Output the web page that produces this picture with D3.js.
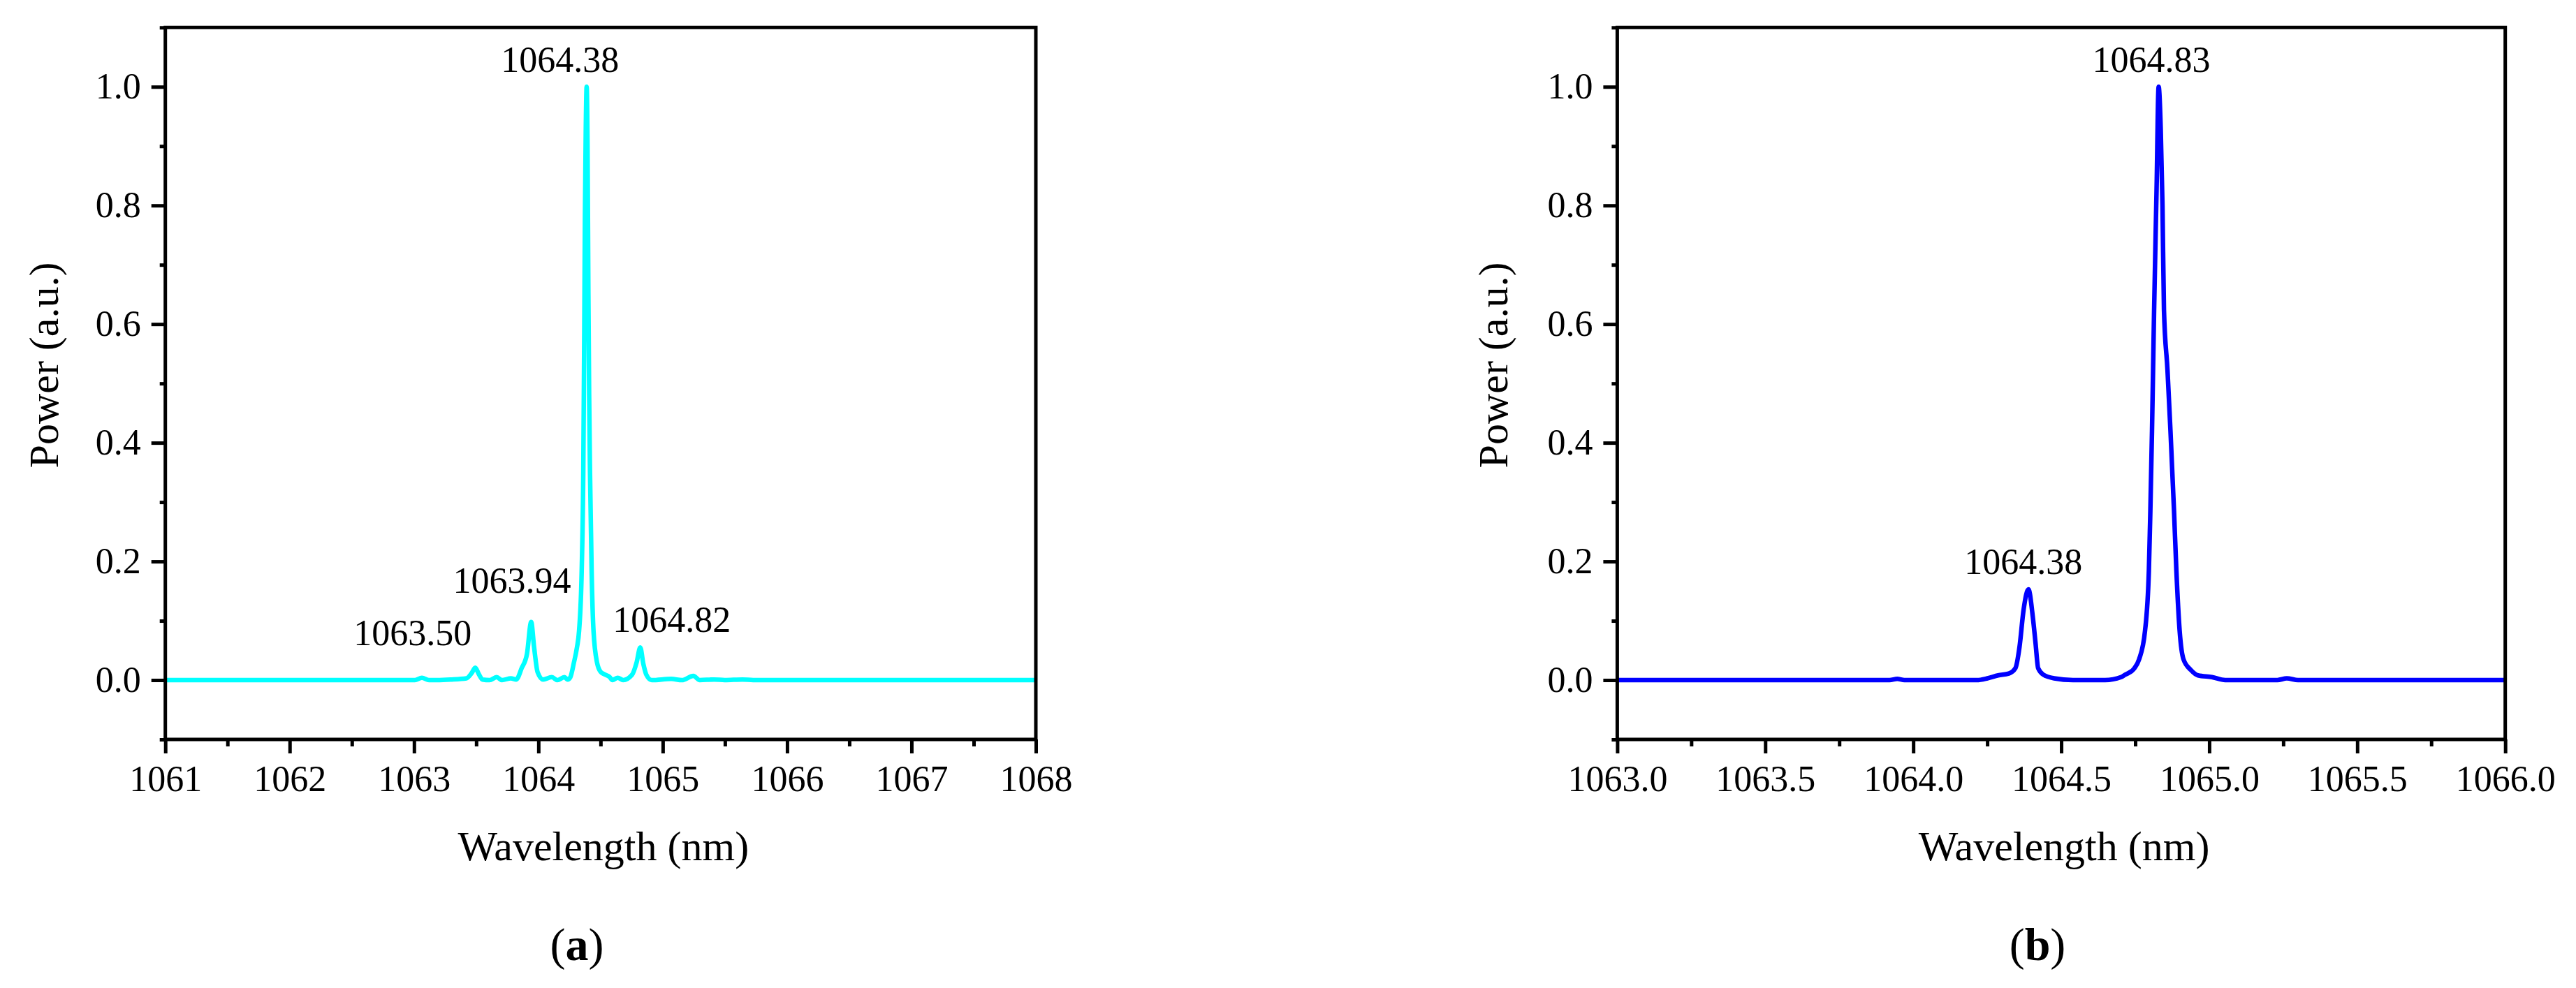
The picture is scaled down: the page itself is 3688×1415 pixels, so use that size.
<!DOCTYPE html>
<html lang="en">
<head>
<meta charset="UTF-8">
<title>Spectra</title>
<script src="https://cdn.jsdelivr.net/npm/d3@7"></script>
<style>
    body { margin: 0; background: #fff; }
    svg text { font-family: "Liberation Serif", "Times New Roman", serif; fill: #000; }
    .axis path { display: none; }
    .axis line { stroke: #000; stroke-width: 5px; }
    .axis text { font-size: 52px; }
</style>
</head>
<body>
<script>
    // panel (a): wavelength (nm) / normalised power
    const leftWavelength = [1061.0, 1063.006, 1063.063, 1063.12, 1063.292, 1063.421, 1063.464, 1063.492, 1063.521,
        1063.55, 1063.607, 1063.664, 1063.707, 1063.779, 1063.822, 1063.865, 1063.908, 1063.942, 1063.965, 1063.994,
        1064.037, 1064.108, 1064.152, 1064.209, 1064.235, 1064.257, 1064.285, 1064.31, 1064.327, 1064.348, 1064.361,
        1064.369, 1064.374, 1064.381, 1064.388, 1064.395, 1064.402, 1064.408, 1064.415, 1064.428, 1064.443, 1064.472,
        1064.50, 1064.528, 1064.574, 1064.595, 1064.638, 1064.681, 1064.753, 1064.79, 1064.819, 1064.844, 1064.868,
        1064.911, 1065.068, 1065.154, 1065.246, 1065.297, 1065.412, 1065.498, 1065.641, 1065.727, 1068.0]
    const leftPower = [0, 0, 0.004, 0, 0.001, 0.003, 0.012, 0.021, 0.01,
        0.001, 0, 0.005, 0, 0.003, 0.001, 0.02, 0.044, 0.098, 0.056, 0.013,
        0.001, 0.005, 0, 0.005, 0.001, 0.005, 0.029, 0.055, 0.083, 0.184, 0.353,
        0.596, 0.78, 0.93, 1.0, 0.9, 0.65, 0.48, 0.35, 0.184, 0.083, 0.029,
        0.014, 0.01, 0.005, 0, 0.004, 0, 0.009, 0.03, 0.055, 0.027, 0.009,
        0, 0.002, 0, 0.007, 0, 0.001, 0, 0.001, 0, 0]

    // panel (b)
    const rightWavelength = [1063.0, 1063.92, 1063.946, 1063.97, 1064.2145, 1064.2506, 1064.2867, 1064.3228, 1064.345,
        1064.359, 1064.3726, 1064.389, 1064.404, 1064.413, 1064.422, 1064.44, 1064.476, 1064.54, 1064.648, 1064.702,
        1064.714, 1064.747, 1064.763, 1064.783, 1064.796, 1064.801, 1064.8066, 1064.8137, 1064.822, 1064.829, 1064.836,
        1064.842, 1064.847, 1064.859, 1064.869, 1064.881, 1064.889, 1064.900, 1064.913, 1064.938, 1064.962, 1065.009,
        1065.054, 1065.23, 1065.262, 1065.30, 1066.0]
    const rightPower = [0, 0, 0.002, 0, 0, 0.003, 0.008, 0.011, 0.02,
        0.056, 0.118, 0.153, 0.106, 0.063, 0.02, 0.009, 0.003, 0, 0, 0.005,
        0.0085, 0.02, 0.035, 0.083, 0.184, 0.285, 0.42, 0.624, 0.826, 1.0, 0.93,
        0.8, 0.624, 0.522, 0.42, 0.285, 0.184, 0.083, 0.035, 0.017, 0.008, 0.005,
        0, 0, 0.003, 0, 0]

    const leftXTicks = [1061, 1062, 1063, 1064, 1065, 1066, 1067, 1068]
    const leftXMinor = [1061.5, 1062.5, 1063.5, 1064.5, 1065.5, 1066.5, 1067.5]
    const rightXTicks = [1063.0, 1063.5, 1064.0, 1064.5, 1065.0, 1065.5, 1066.0]
    const rightXMinor = [1063.25, 1063.75, 1064.25, 1064.75, 1065.25, 1065.75]
    const yTicks = [0, 0.2, 0.4, 0.6, 0.8, 1.0]
    const yMinor = [-0.1, 0.1, 0.3, 0.5, 0.7, 0.9, 1.1]

    // peak labels: text, wavelength and power of label baseline centre
    const leftLabels = ["1064.38", "1063.94", "1063.50", "1064.82"]
    const leftLabelX = [1064.174, 1063.787, 1062.989, 1065.072]
    const leftLabelY = [1.025, 0.147, 0.059, 0.081]
    const rightLabels = ["1064.83", "1064.38"]
    const rightLabelX = [1064.804, 1064.372]
    const rightLabelY = [1.025, 0.179]

    const W = 3688, H = 1415
    const plotTop = 39.3, plotBottom = 1059

    const svg = d3.select("body").append("svg").attr("width", W).attr("height", H)
    svg.append("rect").attr("width", W).attr("height", H).attr("fill", "#fff")

    const panels = [
        {left: 236.7, right: 1483, domain: [1061, 1068], ticks: leftXTicks, minor: leftXMinor, fmt: d3.format("d"),
            wl: leftWavelength, pw: leftPower, color: "#00ffff",
            labels: leftLabels, lx: leftLabelX, ly: leftLabelY, titleX: 62, caption: "a", captionX: 826},
        {left: 2315.4, right: 3586.7, domain: [1063, 1066], ticks: rightXTicks, minor: rightXMinor, fmt: d3.format(".1f"),
            wl: rightWavelength, pw: rightPower, color: "#0000ff",
            labels: rightLabels, lx: rightLabelX, ly: rightLabelY, titleX: 2137, caption: "b", captionX: 2917}
    ]

    panels.forEach(function (p) {
        const x = d3.scaleLinear().domain(p.domain).range([p.left, p.right])
        const y = d3.scaleLinear().domain([-0.1, 1.1]).range([plotBottom, plotTop])
        const g = svg.append("g")

        // spectrum
        const pts = p.wl.map((w, i) => [w, p.pw[i]])
        const line = d3.line().x(d => x(d[0])).y(d => y(d[1])).curve(d3.curveMonotoneX)
        g.append("path").datum(pts)
            .attr("d", line)
            .attr("fill", "none")
            .attr("stroke", p.color)
            .attr("stroke-width", 6.5)
            .attr("stroke-linejoin", "round")

        // axes
        g.append("g").attr("class", "axis").attr("transform", `translate(0,${plotBottom})`)
            .call(d3.axisBottom(x).tickValues(p.ticks).tickSize(20).tickPadding(17).tickFormat(p.fmt))
        g.append("g").attr("class", "axis").attr("transform", `translate(0,${plotBottom})`)
            .call(d3.axisBottom(x).tickValues(p.minor).tickSize(10).tickFormat(""))
        g.append("g").attr("class", "axis").attr("transform", `translate(${p.left},0)`)
            .call(d3.axisLeft(y).tickValues(yTicks).tickSize(20).tickPadding(15).tickFormat(d3.format(".1f")))
        g.append("g").attr("class", "axis").attr("transform", `translate(${p.left},0)`)
            .call(d3.axisLeft(y).tickValues(yMinor).tickSize(8).tickFormat(""))

        // frame
        g.append("rect")
            .attr("x", p.left).attr("y", plotTop)
            .attr("width", p.right - p.left).attr("height", plotBottom - plotTop)
            .attr("fill", "none").attr("stroke", "#000").attr("stroke-width", 5)

        // peak labels
        g.selectAll("text.peak").data(p.labels).join("text")
            .attr("class", "peak")
            .attr("x", (d, i) => x(p.lx[i]))
            .attr("y", (d, i) => y(p.ly[i]))
            .attr("text-anchor", "middle")
            .style("font-size", "52px")
            .text(d => d)

        // axis titles
        g.append("text")
            .attr("x", (p.left + p.right) / 2 + 4).attr("y", 1232)
            .attr("text-anchor", "middle").style("font-size", "60px")
            .text("Wavelength (nm)")
        g.append("text")
            .attr("transform", `translate(${p.titleX},523) rotate(-90)`)
            .attr("dy", "0.35em")
            .attr("text-anchor", "middle").style("font-size", "60px")
            .text("Power (a.u.)")

        // caption
        const cap = g.append("text")
            .attr("x", p.captionX).attr("y", 1375)
            .attr("text-anchor", "middle").style("font-size", "66px")
        cap.append("tspan").text("(")
        cap.append("tspan").style("font-weight", "bold").text(p.caption)
        cap.append("tspan").text(")")
    })
</script>
</body>
</html>
